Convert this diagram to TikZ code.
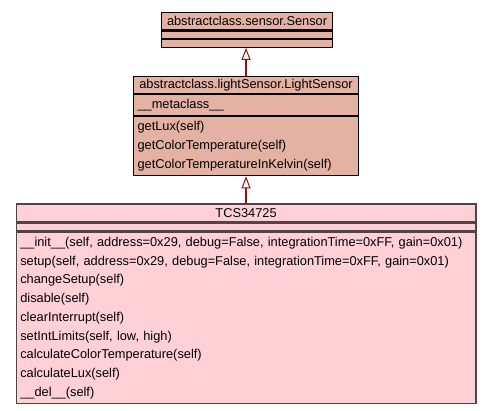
\documentclass[tikz,border=0pt]{standalone}
\usepackage{fontspec}
\setmainfont{Liberation Sans}
\usetikzlibrary{positioning,arrows.meta}
\definecolor{abstractfill}{RGB}{228,178,163}
\definecolor{classfill}{RGB}{255,208,213}
\definecolor{classline}{RGB}{80,68,70}
\definecolor{inheritline}{RGB}{140,20,20}
\tikzset{
  part/.style={draw, inner sep=0pt, line width=1.1pt, font=\fontsize{12.8}{18.75}\selectfont},
  abstractpart/.style={part, fill=abstractfill, draw=black},
  classpart/.style={part, fill=classfill, draw=classline, line width=1.6pt},
  ops/.style={align=left, text width=#1, inner xsep=4pt},
  inherit/.style={draw=inheritline, line width=2pt,
    -{Triangle[open, fill=white, length=12pt, width=9pt, line width=1pt]}},
}
\begin{document}
\begin{tikzpicture}[x=1pt, y=-1pt]
\useasboundingbox (0,0) rectangle (491,411);
% abstract base class
\node[abstractpart, anchor=north west, minimum width=171pt, minimum height=17.5pt] (sensorTitle) at (161,12) {abstractclass.sensor.Sensor};
\node[abstractpart, minimum width=171pt, minimum height=7.5pt, below=0pt of sensorTitle] (sensorAttr) {};
\node[abstractpart, minimum width=171pt, minimum height=7.5pt, below=0pt of sensorAttr] (sensorOps) {};
% light sensor
\node[abstractpart, anchor=north west, minimum width=225pt, minimum height=17pt] (lightTitle) at (133,76) {abstractclass.lightSensor.LightSensor};
\node[abstractpart, ops=217pt, minimum height=21pt, below=0pt of lightTitle] (lightAttr) {\_\_metaclass\_\_};
\node[abstractpart, ops=217pt, minimum height=59pt, below=0pt of lightAttr] (lightOps)
  {getLux(self)\\getColorTemperature(self)\\getColorTemperatureInKelvin(self)};
% TCS34725
\node[classpart, anchor=north west, minimum width=459.5pt, minimum height=18pt] (tcsTitle) at (15.5,203) {TCS34725};
\node[classpart, minimum width=459.5pt, minimum height=7.5pt, below=0pt of tcsTitle] (tcsAttr) {};
\node[classpart, ops=451.5pt, minimum height=171pt, below=0pt of tcsAttr] (tcsOps)
  {\_\_init\_\_(self, address=0x29, debug=False, integrationTime=0xFF, gain=0x01)\\
   setup(self, address=0x29, debug=False, integrationTime=0xFF, gain=0x01)\\
   changeSetup(self)\\
   disable(self)\\
   clearInterrupt(self)\\
   setIntLimits(self, low, high)\\
   calculateColorTemperature(self)\\
   calculateLux(self)\\
   \_\_del\_\_(self)};
% generalisations
\draw[inherit] (lightTitle.north) -- (lightTitle.north |- sensorOps.south);
\draw[inherit] (tcsTitle.north) -- (tcsTitle.north |- lightOps.south);
\end{tikzpicture}
\end{document}
